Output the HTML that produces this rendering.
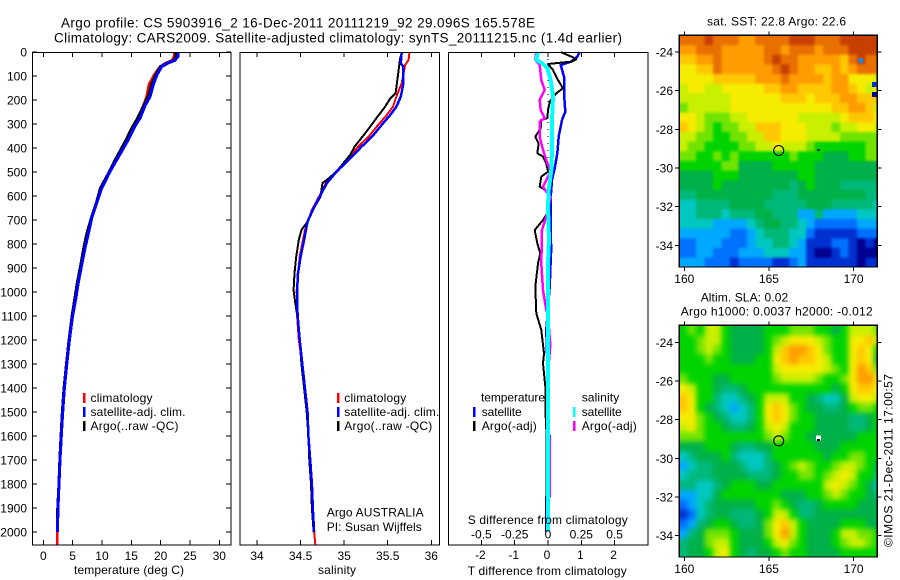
<!DOCTYPE html>
<html lang="en">
<head>
<meta charset="utf-8">
<title>Argo profile CS 5903916_2</title>
<style>
html,body{margin:0;padding:0;background:#fff;width:900px;height:580px;overflow:hidden}
svg{display:block;font-family:"Liberation Sans",sans-serif;fill:#000}
text{font-size:12px;fill:#000}
.t{font-size:13.5px}
.frame{fill:none;stroke:#000;stroke-width:1.3;shape-rendering:crispEdges}
.tick{stroke:#000;stroke-width:1;shape-rendering:crispEdges}
.key{stroke-width:2.5;shape-rendering:crispEdges}
</style>
</head>
<body>
<svg id="fig" xmlns="http://www.w3.org/2000/svg" width="900" height="580" viewBox="0 0 900 580">
  <defs>
    <clipPath id="clip-map-sst"><rect x="679.3" y="35.3" width="198" height="231.7"/></clipPath>
    <clipPath id="clip-map-sla"><rect x="679.3" y="325.3" width="198" height="231.7"/></clipPath>
    <filter id="soft-sst" filterUnits="userSpaceOnUse" x="640" y="0" width="260" height="300" color-interpolation-filters="sRGB"><feGaussianBlur stdDeviation="1.4"/></filter>
    <filter id="soft-sla" filterUnits="userSpaceOnUse" x="640" y="290" width="260" height="290" color-interpolation-filters="sRGB"><feGaussianBlur stdDeviation="2.6"/></filter>
  </defs>
  <text class="t" x="61" y="27.5" textLength="474" lengthAdjust="spacing">Argo profile: CS 5903916_2 16-Dec-2011 20111219_92 29.096S 165.578E</text>
  <text class="t" x="54" y="42.5" textLength="568" lengthAdjust="spacing">Climatology: CARS2009. Satellite-adjusted climatology: synTS_20111215.nc (1.4d earlier)</text>

  <g id="marks-temp"></g>
  <g id="marks-sal"></g>
  <g id="marks-diff"></g>
  <g clip-path="url(#clip-map-sst)"><g id="map-sst" filter="url(#soft-sst)"></g></g>
  <g clip-path="url(#clip-map-sla)"><g id="map-sla" filter="url(#soft-sla)"></g></g>
  <g id="ticks"></g>

  <rect class="frame" x="32.5" y="52.5" width="198.5" height="492.5"/>
  <rect class="frame" x="240" y="52.5" width="199.5" height="492.5"/>
  <rect class="frame" x="448.5" y="52.5" width="199.5" height="492.5"/>
  <rect class="frame" x="679.3" y="35.3" width="198" height="231.7"/>
  <rect class="frame" x="679.3" y="325.3" width="198" height="231.7"/>

  <text x="74" y="574" textLength="110">temperature (deg C)</text>
  <text x="318" y="574" textLength="38">salinity</text>
  <text x="467.7" y="575" textLength="159">T difference from climatology</text>
  <text x="467.7" y="524" textLength="160">S difference from climatology</text>

  <g>
    <line class="key" x1="84" x2="84" y1="393" y2="403" stroke="#f00"/>
    <text x="90.5" y="402" textLength="62">climatology</text>
    <line class="key" x1="84" x2="84" y1="407" y2="417" stroke="#00f"/>
    <text x="90.5" y="416" textLength="95">satellite-adj. clim.</text>
    <line class="key" x1="84" x2="84" y1="421" y2="431" stroke="#000"/>
    <text x="90.5" y="430" textLength="88">Argo(..raw -QC)</text>
  </g>
  <g>
    <line class="key" x1="338" x2="338" y1="393" y2="403" stroke="#f00"/>
    <text x="344.3" y="402" textLength="62">climatology</text>
    <line class="key" x1="338" x2="338" y1="407" y2="417" stroke="#00f"/>
    <text x="344.3" y="416" textLength="95">satellite-adj. clim.</text>
    <line class="key" x1="338" x2="338" y1="421" y2="431" stroke="#000"/>
    <text x="344.3" y="430" textLength="88">Argo(..raw -QC)</text>
    <text x="326.7" y="516.7" textLength="97">Argo AUSTRALIA</text>
    <text x="326.7" y="531" textLength="95">PI: Susan Wijffels</text>
  </g>
  <g>
    <text x="481" y="401.7" textLength="64">temperature</text>
    <text x="581.7" y="401.7" textLength="37.5">salinity</text>
    <line class="key" x1="474" x2="474" y1="407" y2="417" stroke="#00f"/>
    <text x="481.7" y="416" textLength="40">satellite</text>
    <line class="key" x1="474" x2="474" y1="421" y2="431" stroke="#000"/>
    <text x="481.7" y="430" textLength="55">Argo(-adj)</text>
    <line class="key" x1="574" x2="574" y1="407" y2="417" stroke="#0ff"/>
    <text x="581.7" y="416" textLength="40">satellite</text>
    <line class="key" x1="574" x2="574" y1="421" y2="431" stroke="#f0f"/>
    <text x="581.7" y="430" textLength="55">Argo(-adj)</text>
  </g>

  <text x="707" y="25.5" textLength="139">sat. SST: 22.8 Argo: 22.6</text>
  <text x="700.7" y="301.5" textLength="87.5">Altim. SLA: 0.02</text>
  <text x="680.7" y="315.5" textLength="192">Argo h1000: 0.0037 h2000: -0.012</text>
  <text transform="translate(892.5 547) rotate(-90)" textLength="173">©IMOS 21-Dec-2011 17:00:57</text>
</svg>

<script>
// Profile data: depth (dbar) and values
const depthTicks = [0,100,200,300,400,500,600,700,800,900,1000,1100,1200,1300,1400,1500,1600,1700,1800,1900,2000];
const tempTicks = [0,5,10,15,20,25,30];
const salTicks = [34,34.5,35,35.5,36];
const diffTTicks = [-2,-1,0,1,2];
const diffSTicks = [-0.5,-0.25,0,0.25,0.5];
const diffSTickLabels = ["-0.5","-0.25","0","0.25","0.5"];
const latTicks = [-24,-26,-28,-30,-32,-34];
const lonTicks = [160,165,170];

const tempDepths = [0,18,35,46,60,94,136,185,226,275,310,365,414,462,511,567,629,692,754,817,893,963,1025,1100,1200,1300,1400,1500,1600,1700,1800,1900,2000,2054];
const tempClim = [22.3,22.3,21.9,20.9,19.9,18.9,18.0,17.6,17.0,16.1,15.3,14.2,13.1,12.0,11.0,9.85,9.05,8.2,7.55,6.95,6.4,5.85,5.45,4.95,4.4,3.95,3.55,3.25,3.0,2.8,2.65,2.52,2.4,2.4];
const tempArgo = [22.55,22.6,22.2,21.0,20.0,19.1,18.4,17.85,17.05,16.05,15.2,14.1,13.0,11.95,10.95,9.7,9.0,8.15,7.4,6.85,6.3,5.75,5.35,4.85,4.35,3.9,3.5,3.2,2.98,2.78,2.62,2.42,2.35];
const tempSat = [23,23,22.4,21.3,20.2,19.4,18.75,18.2,17.3,16.5,15.6,14.5,13.35,12.2,11.1,9.95,9.1,8.25,7.7,7.1,6.5,5.95,5.55,5.0,4.45,4.0,3.6,3.3,3.07,2.85,2.67,2.5,2.4];

const salClimDepths = [0,33,54,130,186,228,262,304,353,394,443,499,547,603,658,742,853,992,1100,1200,1300,1400,1500,1600,1700,1800,1900,2000,2054];
const salClim = [35.75,35.74,35.7,35.66,35.6,35.56,35.49,35.39,35.28,35.16,35.05,34.92,34.79,34.71,34.63,34.55,34.49,34.455,34.46,34.48,34.52,34.55,34.58,34.59,34.61,34.63,34.64,34.655,34.67];
const salArgoDepths = [0,33,89,172,193,228,276,339,394,428,499,527,547,603,658,707,742,783,853,922,992,1047,1117,1200,1300,1400,1500,1600,1700,1800,1900,2000];
const salArgo = [35.66,35.64,35.62,35.59,35.53,35.47,35.37,35.24,35.12,35.07,34.91,34.82,34.75,34.73,34.64,34.58,34.51,34.48,34.45,34.43,34.42,34.44,34.47,34.49,34.51,34.54,34.57,34.59,34.6,34.62,34.63,34.65];
const salSatDepths = [0,47,61,130,186,228,262,304,353,394,443,499,547,603,658,707,783,853,922,992,1061,1117,1200,1300,1400,1500,1600,1700,1800,1900,2000];
const salSat = [35.66,35.65,35.68,35.68,35.65,35.6,35.53,35.43,35.32,35.2,35.07,34.91,34.8,34.72,34.64,34.58,34.54,34.5,34.47,34.46,34.46,34.47,34.49,34.52,34.55,34.58,34.59,34.61,34.63,34.64,34.655];

const diffTSatDepths = [0,19,40,54,103,172,249,283,353,422,485,533,603,783,811,867,978,1158,1297,1500,2000];
const diffTSat = [0.95,0.88,0.7,0.38,0.48,0.48,0.52,0.42,0.32,0.28,0.2,0.12,0.08,0.08,0.1,0.08,0.05,-0.05,-0.02,-0.03,-0.05];
const diffTArgoDepths = [0,19,30,40,50,75,117,151,172,207,242,276,283,318,353,381,422,436,464,499,519,561,582,672,700,742,797,839,881,978,1089,1158,1256,1297,1394,1519,1575,2000];
const diffTArgo = [0.38,0.7,0.85,0.7,0,0.15,0.3,0.45,0.25,0.05,0,-0.02,-0.2,-0.22,-0.38,-0.28,-0.32,-0.15,-0.05,0,-0.2,-0.25,0,-0.02,-0.15,-0.4,-0.32,-0.23,-0.3,-0.38,-0.35,-0.2,-0.12,-0.15,-0.08,-0.07,-0.05,-0.04];
const diffSArgoDepths = [0,33,54,117,158,200,242,276,290,353,408,450,499,561,582,603,672,742,881,992,1075,1100,1220,1300,1590,1600,1850,1860,2000];
const diffSArgo = [-0.0875,-0.095,-0.0625,-0.05,-0.025,-0.0625,-0.055,-0.025,-0.0625,-0.0625,-0.0375,-0.0125,0.02,-0.0375,-0.0125,0.02,-0.005,-0.045,-0.05,-0.0375,-0.0125,0,0.0175,0.005,0.005,0.014,0.014,0.003,0.003];
const diffSSatDepths = [0,33,50,68,117,186,283,408,492,575,644,783,881,2000];
const diffSSat = [-0.075,-0.0875,-0.0375,-0.005,0.02,0.0375,0.03,0.03,0.025,0.005,0,0.0075,0,0];

// Palette from cold to warm; map grids below hold palette levels read per half-degree cell
const mapPalette = ["#000090","#0030d0","#0070ff","#00a8ff","#00c8c0","#00b878","#00b048","#00d400","#70e400","#c8f000","#f6ec00","#ffc800","#ff9c00","#e87000","#c84000"];
const sstGrid = [
[13,13,13,14,13,13,13,12,12,13,13,13,13,14,14,14,13,13,13,14,14,14,14,14],
[12,12,13,13,13,12,12,12,12,12,13,13,12,13,13,13,12,13,13,13,14,14,14,14],
[11,11,12,12,13,12,12,12,12,12,13,14,13,13,12,12,12,12,12,11,13,14,13,13],
[10,10,11,11,13,12,12,12,12,12,12,13,14,13,12,12,11,11,12,11,12,13,13,13],
[10,10,10,10,11,11,11,11,11,12,12,12,13,12,12,12,12,11,12,12,10,10,10,9],
[9,10,10,9,9,10,10,10,10,10,11,11,12,12,11,11,11,11,12,12,11,10,9,10],
[9,9,9,9,9,9,10,10,10,10,10,10,11,11,11,10,11,11,11,12,12,11,11,11],
[8,9,9,9,9,9,10,10,10,10,10,10,10,10,10,10,10,10,11,11,12,12,11,9],
[10,10,9,8,8,8,9,9,10,10,10,10,10,10,9,9,9,9,9,10,11,11,11,10],
[11,10,9,8,7,8,8,9,9,11,11,11,10,10,10,9,9,9,8,9,9,10,10,9],
[9,9,8,8,7,7,8,8,9,9,11,11,10,10,10,9,9,9,9,8,8,8,8,8],
[9,8,8,7,7,7,7,8,8,9,9,10,9,9,9,8,7,7,7,7,7,7,8,8],
[8,8,7,7,8,7,8,7,7,7,7,7,7,8,7,7,7,6,6,6,7,7,8,8],
[7,7,7,7,7,8,8,6,6,6,6,7,7,7,7,7,6,6,6,6,6,6,6,6],
[6,6,6,6,7,7,7,6,6,6,6,6,6,6,7,7,6,6,6,6,6,6,6,6],
[6,6,6,6,7,6,6,6,6,6,6,6,6,5,6,7,6,6,6,5,5,5,5,5],
[5,5,6,6,6,6,6,6,6,6,6,5,5,5,6,6,6,6,6,6,6,6,5,5],
[4,4,5,5,5,5,6,6,6,6,5,5,5,5,5,6,6,6,5,5,5,5,5,4],
[4,4,5,5,5,4,5,5,5,6,6,5,5,5,3,3,5,3,3,3,3,4,4,4],
[4,4,4,4,3,3,3,3,4,5,6,6,5,5,4,3,2,2,2,2,2,3,3,3],
[3,3,3,3,3,3,2,2,3,4,5,5,5,4,4,2,1,1,1,1,1,2,2,2],
[2,2,3,3,3,2,2,2,3,4,4,5,5,4,3,1,1,1,2,2,1,0,1,0],
[2,2,3,3,2,2,2,3,3,3,4,4,4,3,3,1,0,0,1,2,1,0,0,0],
[3,3,3,2,2,2,1,2,2,2,2,1,1,2,3,1,1,1,1,1,1,0,1,1]
];
const slaGrid = [
[7,8,7,9,9,7,6,6,6,6,7,7,7,8,8,8,7,7,6,7,9,9,9,8],
[7,7,8,9,9,7,6,6,6,6,7,8,9,10,10,10,9,8,7,7,10,10,11,9],
[7,7,8,9,8,7,6,6,6,6,7,9,11,12,12,11,10,8,7,7,10,11,10,7],
[7,7,7,8,7,7,6,6,6,7,7,10,11,12,11,11,10,9,7,7,10,11,10,6],
[7,7,7,7,7,7,7,7,7,7,7,9,10,10,10,10,10,9,8,7,10,12,11,8],
[8,7,7,7,6,6,7,7,7,7,7,8,9,9,9,9,8,7,7,8,10,12,12,10],
[10,9,7,7,6,5,5,6,7,7,7,7,7,7,7,7,7,7,6,7,10,11,11,10],
[11,10,7,7,5,4,4,5,6,7,9,9,9,7,7,6,5,4,4,6,9,10,10,9],
[11,10,7,6,5,4,3,4,5,7,10,11,10,8,7,6,6,5,5,6,7,8,8,7],
[10,10,8,7,6,5,4,4,5,7,10,11,10,8,7,7,6,6,6,6,5,5,6,7],
[9,10,8,7,7,6,5,5,6,7,9,10,9,7,7,7,6,6,6,6,5,5,6,7],
[8,8,8,7,7,7,7,7,7,7,8,9,8,7,7,6,6,6,6,6,6,7,7,7],
[6,6,6,7,7,7,6,5,5,6,6,7,7,7,7,7,6,6,6,7,7,7,7,7],
[4,5,6,6,6,7,5,4,4,4,5,7,7,7,7,7,7,6,7,7,8,8,7,7],
[3,4,5,5,6,6,6,5,4,4,5,6,7,8,9,8,7,7,8,9,9,8,7,6],
[4,5,5,5,6,6,6,6,5,5,5,6,7,7,8,8,7,8,9,10,9,7,7,5],
[5,5,4,4,5,6,7,7,7,6,6,7,7,7,7,7,7,9,10,9,8,7,6,4],
[3,3,4,4,6,7,7,7,7,7,7,7,6,6,6,7,7,8,9,8,7,7,6,5],
[2,3,4,5,6,6,6,6,6,7,7,8,7,6,5,5,6,7,7,7,7,6,6,6],
[1,2,4,5,6,6,5,5,5,6,7,9,9,7,5,5,6,6,6,6,6,6,6,6],
[2,3,5,6,7,7,6,5,5,6,8,10,11,9,7,6,6,6,6,7,7,7,6,6],
[3,5,6,8,8,8,7,6,6,6,8,10,12,9,7,6,6,6,7,9,9,8,8,7],
[5,6,6,8,9,9,7,6,6,6,7,9,10,8,7,6,6,6,7,8,9,9,8,7],
[5,6,6,7,9,10,7,6,5,6,6,7,8,7,7,6,6,6,6,7,7,7,7,7]
];
const floatLon = 165.578;
const floatLat = -29.096;

// Axis functions
const SVGNS = "http://www.w3.org/2000/svg";
const depthY = d => 52 + d * 0.24;
const tempX = t => 43.3 + t * 5.867;
const salX = s => 257 + (s - 34) * 87.15;
const diffTX = t => 548 + t * 33.3;
const diffSX = s => 548 + s * 133.2;
const lonX = lon => 684.3 + (lon - 160) * 16.93;
const latYSst = lat => 52 + (-24 - lat) * 19.33;
const latYSla = lat => 342.3 + (-24 - lat) * 19.33;

function line(parent, x1, y1, x2, y2) {
  const el = document.createElementNS(SVGNS, "line");
  el.setAttribute("class", "tick");
  el.setAttribute("x1", x1);
  el.setAttribute("y1", y1);
  el.setAttribute("x2", x2);
  el.setAttribute("y2", y2);
  
  
  parent.appendChild(el);
}
function label(parent, x, y, anchor, str) {
  const el = document.createElementNS(SVGNS, "text");
  el.setAttribute("x", x);
  el.setAttribute("y", y);
  el.setAttribute("text-anchor", anchor);
  el.textContent = str;
  
  
  parent.appendChild(el);
}
function profile(parent, depths, values, xFn, color, width, name) {
  const el = document.createElementNS(SVGNS, "polyline");
  el.setAttribute("points", values.map((v, i) => xFn(v).toFixed(1) + "," + depthY(depths[i]).toFixed(1)).join(" "));
  el.setAttribute("fill", "none");
  el.setAttribute("stroke", color);
  el.setAttribute("stroke-width", width);
  el.setAttribute("stroke-linejoin", "round");
  el.setAttribute("shape-rendering", "crispEdges");
  
  
  parent.appendChild(el);
}
function heatmap(parent, grid, yFn) {
  const lastRow = grid.length - 1;
  grid.forEach((row, r) => row.forEach((level, c) => {
    const lon0 = 159.7 + c * 0.5;
    const lat0 = -23.14 - r * 0.5;
    // Edge cells bleed past the frame so the softening filter keeps full colour at the border
    const x = lonX(lon0) - (c === 0 ? 20 : 0);
    const y = yFn(lat0) - (r === 0 ? 20 : 0);
    const x2 = lonX(lon0 + 0.5) + (c === row.length - 1 ? 20 : 0.5);
    const y2 = yFn(lat0 - 0.5) + (r === lastRow ? 20 : 0.5);
    const el = document.createElementNS(SVGNS, "rect");
    el.setAttribute("x", x.toFixed(2));
    el.setAttribute("y", y.toFixed(2));
    el.setAttribute("width", (x2 - x).toFixed(2));
    el.setAttribute("height", (y2 - y).toFixed(2));
    el.setAttribute("fill", mapPalette[level]);
    
    
    parent.appendChild(el);
  }));
}
function floatMarker(parent, yFn) {
  const el = document.createElementNS(SVGNS, "circle");
  el.setAttribute("cx", lonX(floatLon).toFixed(1));
  el.setAttribute("cy", yFn(floatLat).toFixed(1));
  el.setAttribute("r", 5);
  el.setAttribute("fill", "none");
  el.setAttribute("stroke", "#000");
  el.setAttribute("stroke-width", 1.1);
  
  
  parent.appendChild(el);
}

const tk = document.getElementById("ticks");

// Depth axis
depthTicks.forEach(d => {
  const y = depthY(d);
  line(tk, 32.5, y, 37, y);
  line(tk, 226, y, 231, y);
  label(tk, 27, y + 4.5, "end", String(d));
});
// Temperature axis
tempTicks.forEach(t => {
  const x = tempX(t);
  line(tk, x, 52.5, x, 57);
  line(tk, x, 540, x, 545);
  label(tk, x, 560, "middle", String(t));
});
// Salinity axis
salTicks.forEach(s => {
  const x = salX(s);
  line(tk, x, 52.5, x, 57);
  line(tk, x, 540, x, 545);
  label(tk, x, 560, "middle", String(s));
});
// Difference axes
diffTTicks.forEach(t => {
  const x = diffTX(t);
  line(tk, x, 52.5, x, 57);
  line(tk, x, 540, x, 545);
  label(tk, x - 1, 559, "middle", String(t));
});
diffSTicks.forEach((s, i) => {
  label(tk, diffSX(s), 538.7, "middle", diffSTickLabels[i]);
});
// Map axes
function mapAxes(yFn, top, bottom, labelY) {
  latTicks.forEach(lat => {
    const y = yFn(lat);
    line(tk, 675, y, 679.3, y);
    line(tk, 877.3, y, 881.5, y);
    label(tk, 673, y + 4.5, "end", String(lat));
  });
  lonTicks.forEach(lon => {
    const x = lonX(lon);
    line(tk, x, top - 4, x, top);
    line(tk, x, bottom, x, bottom + 4);
    label(tk, x, labelY, "middle", String(lon));
  });
}
mapAxes(latYSst, 35.3, 267, 283);
mapAxes(latYSla, 325.3, 557, 573);

// Temperature panel
const mt = document.getElementById("marks-temp");
profile(mt, tempDepths, tempClim, tempX, "#f00", 2.5, "temperature-climatology-line");
profile(mt, tempDepths, tempArgo, tempX, "#000", 2.5, "temperature-argo-line");
profile(mt, tempDepths, tempSat, tempX, "#00f", 3, "temperature-satellite-line");

// Salinity panel
const ms = document.getElementById("marks-sal");
profile(ms, salClimDepths, salClim, salX, "#f00", 2, "salinity-climatology-line");
profile(ms, salArgoDepths, salArgo, salX, "#000", 2, "salinity-argo-line");
profile(ms, salSatDepths, salSat, salX, "#00f", 2.5, "salinity-satellite-line");

// Difference panel
const md = document.getElementById("marks-diff");
const zeroLine = document.createElementNS(SVGNS, "line");
zeroLine.setAttribute("x1", diffTX(0));
zeroLine.setAttribute("x2", diffTX(0));
zeroLine.setAttribute("y1", depthY(0));
zeroLine.setAttribute("y2", depthY(2000));
zeroLine.setAttribute("stroke", "#000");
zeroLine.setAttribute("stroke-dasharray", "1 6");


md.appendChild(zeroLine);
profile(md, diffTSatDepths, diffTSat, diffTX, "#00f", 2.5, "t-difference-satellite-line");
profile(md, diffTArgoDepths, diffTArgo, diffTX, "#000", 2, "t-difference-argo-line");
profile(md, diffSArgoDepths, diffSArgo, diffSX, "#f0f", 2.5, "s-difference-argo-line");
profile(md, diffSSatDepths, diffSSat, diffSX, "#0ff", 4, "s-difference-satellite-line");

// Maps
const mapSst = document.getElementById("map-sst");
const mapSla = document.getElementById("map-sla");
heatmap(mapSst, sstGrid, latYSst);
heatmap(mapSla, slaGrid, latYSla);

const fig = document.getElementById("fig");
floatMarker(fig, latYSst);
floatMarker(fig, latYSla);

function spot(parent, x, y, w, h, color) {
  const el = document.createElementNS(SVGNS, "rect");
  el.setAttribute("x", x);
  el.setAttribute("y", y);
  el.setAttribute("width", w);
  el.setAttribute("height", h);
  el.setAttribute("fill", color);
  el.setAttribute("shape-rendering", "crispEdges");
  
  
  parent.appendChild(el);
}
spot(fig, 859, 58, 4, 5, "#0090ff");
spot(fig, 872, 82, 5, 5, "#0030d0");
spot(fig, 872, 92, 5, 5, "#000090");
spot(fig, 817, 149, 3, 2, "#003000");
spot(fig, 816, 435.5, 5, 5, "#ffffff");
spot(fig, 817, 439, 3, 2, "#000000");
</script>
</body>
</html>
